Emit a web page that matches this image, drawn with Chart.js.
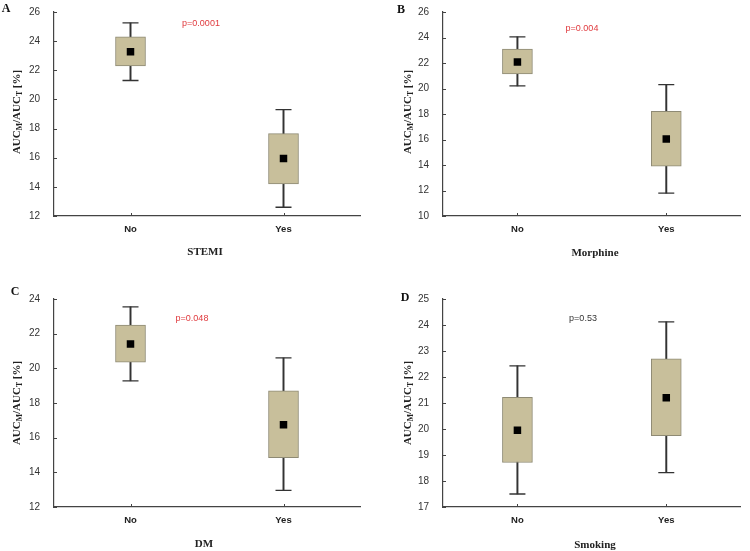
<!DOCTYPE html>
<html lang="en">
<head>
  <meta charset="UTF-8">
  <title>AUC box plots</title>
  <script src="https://cdn.jsdelivr.net/npm/chart.js"></script>
  <style>
    body {
      margin: 0;
      background: #fff;
    }
    .wrap {
      position: relative;
      width: 750px;
      height: 551px;
      overflow: hidden;
    }
    .panel {
      position: absolute;
    }
    .lbl {
      position: absolute;
      transform: translate(-50%, -50%);
      white-space: nowrap;
      line-height: 1;
    }
    .letter {
      font: bold 12px 'Liberation Serif', serif;
      color: #111;
    }
    .xtitle {
      font: bold 11px 'Liberation Serif', serif;
      color: #222;
    }
    .ytitle {
      font: bold 11px 'Liberation Serif', serif;
      color: #222;
      transform: translate(-50%, -50%) rotate(-90deg);
    }
    .ytitle sub {
      font-size: 0.7em;
      vertical-align: -0.3em;
      line-height: 0;
    }
    .pval {
      font: 9px 'Liberation Sans', Arial, sans-serif;
      color: #e03a3e;
    }
    .pval.ns { color: #333; }
  </style>
</head>
<body>
<div class="wrap">
  <canvas class="panel" id="chartA" width="375" height="275" style="left:0;top:0"></canvas>
  <canvas class="panel" id="chartB" width="375" height="275" style="left:375px;top:0"></canvas>
  <canvas class="panel" id="chartC" width="375" height="276" style="left:0;top:275px"></canvas>
  <canvas class="panel" id="chartD" width="375" height="276" style="left:375px;top:275px"></canvas>

  <div class="lbl letter" style="left:6px;top:8px">A</div>
  <div class="lbl letter" style="left:401px;top:9px">B</div>
  <div class="lbl letter" style="left:15px;top:291px">C</div>
  <div class="lbl letter" style="left:405px;top:297px">D</div>

  <div class="lbl ytitle" style="left:16px;top:112px">AUC<sub>M</sub>/AUC<sub>T</sub> [%]</div>
  <div class="lbl ytitle" style="left:407px;top:112px">AUC<sub>M</sub>/AUC<sub>T</sub> [%]</div>
  <div class="lbl ytitle" style="left:16px;top:403px">AUC<sub>M</sub>/AUC<sub>T</sub> [%]</div>
  <div class="lbl ytitle" style="left:407px;top:403px">AUC<sub>M</sub>/AUC<sub>T</sub> [%]</div>

  <div class="lbl xtitle" style="left:205px;top:251px">STEMI</div>
  <div class="lbl xtitle" style="left:595px;top:252px">Morphine</div>
  <div class="lbl xtitle" style="left:204px;top:543px">DM</div>
  <div class="lbl xtitle" style="left:595px;top:544px">Smoking</div>

  <div class="lbl pval" style="left:201px;top:23px">p=0.0001</div>
  <div class="lbl pval" style="left:582px;top:28px">p=0.004</div>
  <div class="lbl pval" style="left:192px;top:318px">p=0.048</div>
  <div class="lbl pval ns" style="left:583px;top:318px">p=0.53</div>
</div>

<script>
  const categories = ['No', 'Yes'];

  // A - STEMI
  const stemiMin = [21.3, 12.6];
  const stemiQ1 = [22.3, 14.2];
  const stemiMean = [23.27, 15.95];
  const stemiQ3 = [24.3, 17.65];
  const stemiMax = [25.25, 19.3];
  const stemiAxis = [12, 26, 2];

  // B - Morphine
  const morphMin = [20.2, 11.8];
  const morphQ1 = [21.15, 13.9];
  const morphMean = [22.07, 16.03];
  const morphQ3 = [23.1, 18.2];
  const morphMax = [24.05, 20.3];
  const morphAxis = [10, 26, 2];

  // C - DM
  const dmMin = [19.28, 12.96];
  const dmQ1 = [20.35, 14.85];
  const dmMean = [21.4, 16.75];
  const dmQ3 = [22.5, 18.7];
  const dmMax = [23.55, 20.6];
  const dmAxis = [12, 24, 2];

  // D - Smoking
  const smokeMin = [17.5, 18.32];
  const smokeQ1 = [18.71, 19.74];
  const smokeMean = [19.95, 21.2];
  const smokeQ3 = [21.22, 22.7];
  const smokeMax = [22.43, 24.12];
  const smokeAxis = [17, 25, 1];

  const axisColor = '#444';

  // small inward tick marks like the original figure
  const innerTicks = {
    id: 'innerTicks',
    afterDraw(chart) {
      const ctx = chart.ctx;
      const ys = chart.scales.y, xs = chart.scales.x;
      ctx.save();
      ctx.strokeStyle = axisColor;
      ctx.lineWidth = 1;
      ctx.beginPath();
      ys.ticks.forEach((t, i) => {
        const py = Math.round(ys.getPixelForTick(i)) + 0.5;
        ctx.moveTo(ys.right, py);
        ctx.lineTo(ys.right + 3, py);
      });
      xs.ticks.forEach((t, i) => {
        const px = Math.round(xs.getPixelForTick(i)) + 0.5;
        ctx.moveTo(px, xs.top);
        ctx.lineTo(px, xs.top - 3);
      });
      ctx.stroke();
      ctx.restore();
    }
  };

  function boxChart(id, mins, q1, means, q3, maxs, axis, box) {
    const [yMin, yMax, step] = axis;
    new Chart(document.getElementById(id), {
      type: 'bar',
      data: {
        labels: categories,
        datasets: [
          {
            data: categories.map((c, i) => [q1[i], q3[i]]),
            backgroundColor: '#c8bf9b',
            borderColor: '#8e8a74',
            borderWidth: 1,
            borderSkipped: false,
            barThickness: 30,
            grouped: false,
            order: 1
          },
          {
            data: categories.map((c, i) => [mins[i], maxs[i]]),
            backgroundColor: '#333',
            borderWidth: 0,
            barThickness: 1.3,
            grouped: false,
            order: 3
          },
          {
            type: 'line',
            data: maxs,
            showLine: false,
            pointStyle: 'line',
            pointRadius: 8,
            borderColor: '#333',
            borderWidth: 1.3,
            order: 2
          },
          {
            type: 'line',
            data: mins,
            showLine: false,
            pointStyle: 'line',
            pointRadius: 8,
            borderColor: '#333',
            borderWidth: 1.3,
            order: 2
          },
          {
            type: 'line',
            data: means,
            showLine: false,
            pointStyle: 'rect',
            pointRadius: 5.3,
            backgroundColor: '#000',
            borderWidth: 0,
            order: 0
          }
        ]
      },
      options: {
        responsive: false,
        animation: false,
        layout: { padding: { top: box.top, right: box.right, left: 0, bottom: 0 } },
        plugins: { legend: { display: false }, tooltip: { enabled: false } },
        scales: {
          x: {
            grid: { display: false },
            border: { display: true, color: axisColor, width: 1.2 },
            ticks: {
              color: '#222',
              padding: 0,
              font: { family: "'Liberation Sans', Arial, sans-serif", size: 9.5, weight: 'bold' }
            },
            afterFit: s => { s.height = box.xh; }
          },
          y: {
            min: yMin,
            max: yMax,
            grid: { display: false },
            border: { display: true, color: axisColor, width: 1.2 },
            ticks: {
              stepSize: step,
              color: '#333',
              padding: 6,
              font: { family: "'Liberation Sans', Arial, sans-serif", size: 10 }
            },
            afterFit: s => { s.width = box.yw; }
          }
        }
      },
      plugins: [innerTicks]
    });
  }

  boxChart('chartA', stemiMin, stemiQ1, stemiMean, stemiQ3, stemiMax, stemiAxis,
    { top: 7, right: 15, xh: 59, yw: 54 });
  boxChart('chartB', morphMin, morphQ1, morphMean, morphQ3, morphMax, morphAxis,
    { top: 7, right: 1, xh: 59, yw: 68 });
  boxChart('chartC', dmMin, dmQ1, dmMean, dmQ3, dmMax, dmAxis,
    { top: 24, right: 15, xh: 44, yw: 54 });
  boxChart('chartD', smokeMin, smokeQ1, smokeMean, smokeQ3, smokeMax, smokeAxis,
    { top: 24, right: 1, xh: 44, yw: 68 });
</script>
</body>
</html>
